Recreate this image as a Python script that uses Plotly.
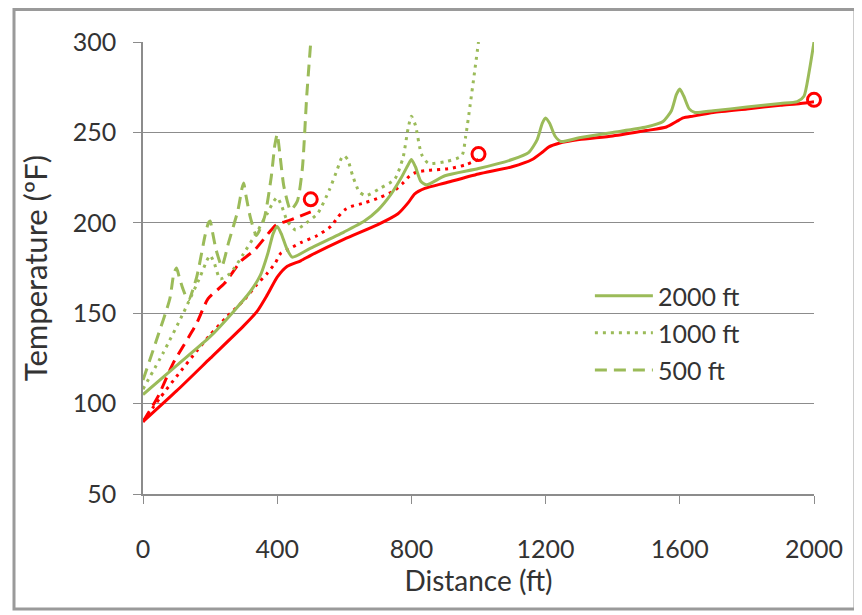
import plotly.graph_objects as go

GREEN = "#9bbb59"
RED = "#ff0000"
GRID = "#8c8c8c"

# 2000 ft run
x_2000 = [0, 100, 200, 270, 320, 350, 372, 388, 400, 412, 428, 445, 500, 600, 660, 700, 740,
          770, 790, 800, 812, 828, 845, 900, 1000, 1100, 1150, 1175, 1190, 1200, 1212, 1228,
          1245, 1300, 1400, 1500, 1550, 1575, 1590, 1600, 1612, 1628, 1645, 1700, 1800, 1900,
          1950, 1970, 1985, 2000]
t_2000 = [105, 121, 137, 151, 162, 171, 183, 194, 198, 194, 186, 181, 186, 195, 201, 207, 216,
          225, 232, 235, 231, 223, 221, 226, 230, 235, 239, 246, 255, 258, 255, 248,
          245, 247, 250, 253, 256, 262, 271, 274, 270, 263, 261, 262, 264, 266,
          267, 270, 283, 300]
xr_2000 = [0, 100, 200, 300, 340, 370, 400, 430, 470, 500, 600, 700, 760, 790, 810, 840, 900,
           1000, 1100, 1160, 1190, 1210, 1240, 1300, 1400, 1500, 1560, 1590, 1610, 1640, 1700,
           1800, 1900, 1960, 2000]
tr_2000 = [90, 107, 125, 143, 151, 160, 170, 176, 179, 182, 191, 199, 205, 211, 216, 219, 222,
           227, 231, 235, 239, 242, 244, 246, 248, 251, 253, 256, 258, 259, 261,
           263, 265, 266, 267]

# 1000 ft run
x_1000 = [0, 60, 120, 170, 190, 200, 212, 230, 260, 300, 340, 370, 390, 400, 412, 430, 455, 480,
          520, 555, 580, 592, 600, 610, 625, 645, 665, 706, 750, 775, 790, 800, 812, 830, 850,
          905, 950, 962, 975, 988, 1000]
t_1000 = [108, 128, 150, 170, 179, 182, 178, 169, 172, 183, 195, 205, 212, 214, 210, 201, 196, 199,
          205, 218, 230, 236, 237, 235, 226, 217, 215, 219, 224, 236, 252, 259, 254, 238, 233,
          234, 237, 248, 265, 283, 300]
xr_1000 = [0, 50, 100, 160, 200, 250, 300, 340, 370, 395, 410, 440, 470, 520, 560, 580, 600, 620,
           660, 706, 750, 775, 795, 815, 850, 915, 960, 1000]
tr_1000 = [90, 103, 115, 129, 138, 148, 157, 166, 172, 178, 183, 186, 189, 193, 198, 203, 207, 209,
           211, 214, 218, 222, 226, 228, 229, 230, 232, 235]

# 500 ft run
x_500 = [0, 40, 80, 92, 100, 108, 118, 135, 160, 185, 195, 200, 207, 218, 235, 255, 283, 295, 300,
         307, 320, 338, 362, 382, 393, 400, 408, 420, 440, 460, 475, 488, 500]
t_500 = [113, 135, 158, 172, 175, 170, 164, 157, 170, 193, 200, 201, 195, 185, 176, 189, 207, 219, 222,
         215, 203, 193, 203, 225, 243, 249, 238, 220, 207, 212, 230, 270, 300]
xr_500 = [0, 45, 89, 159, 194, 243, 293, 333, 382, 398, 438, 458, 500]
tr_500 = [90, 104, 122, 144, 158, 166.5, 179, 185, 196, 199, 201.5, 203, 206]

# end points
end_x = [500, 1000, 2000]
end_t = [213, 238, 268]

fig = go.Figure()

green_runs = [
    ("2000 ft", x_2000, t_2000, "solid", "legend"),
    ("1000 ft", x_1000, t_1000, "3px,5px", "legend2"),
    ("500 ft", x_500, t_500, "12px,7px", "legend3"),
]
red_runs = [
    (xr_2000, tr_2000, "solid"),
    (xr_1000, tr_1000, "3px,5px"),
    (xr_500, tr_500, "12px,7px"),
]

for xs, ts, dash in red_runs:
    fig.add_trace(go.Scatter(
        x=xs, y=ts, mode="lines", showlegend=False,
        line=dict(color=RED, width=3, dash=dash, shape="spline", smoothing=0.6),
    ))

for name, xs, ts, dash, lg in green_runs:
    fig.add_trace(go.Scatter(
        x=xs, y=ts, mode="lines", name=name, legend=lg,
        line=dict(color=GREEN, width=3, dash=dash, shape="spline", smoothing=0.6),
    ))

fig.add_trace(go.Scatter(
    x=end_x, y=end_t, mode="markers", showlegend=False, cliponaxis=False,
    marker=dict(symbol="circle-open", size=13, color=RED, line=dict(color=RED, width=3)),
))

font = dict(family="Lato, Arial, sans-serif", size=25, color="#333333")
legend_common = dict(
    x=0.666, xanchor="left", yanchor="middle", bgcolor="rgba(0,0,0,0)",
    font=font, itemwidth=58, borderwidth=0,
)

# page body has an 8px margin, so the figure is a bit smaller than the window
fig.update_layout(
    width=854, height=607,
    margin=dict(l=135, r=48, t=34, b=121),
    paper_bgcolor="white", plot_bgcolor="white",
    font=font,
    legend=dict(y=0.438, **legend_common),
    legend2=dict(y=0.356, **legend_common),
    legend3=dict(y=0.274, **legend_common),
    xaxis=dict(
        range=[0, 2000], tickvals=[0, 400, 800, 1200, 1600, 2000],
        showgrid=False, zeroline=False,
        showline=True, linecolor=GRID, linewidth=1.5,
        ticks="outside", ticklen=8, tickcolor=GRID, ticklabelstandoff=24,
        title=dict(text="Distance (ft)", font=dict(size=28), standoff=9),
    ),
    yaxis=dict(
        range=[50, 300], tickvals=[50, 100, 150, 200, 250, 300],
        showgrid=True, gridcolor=GRID, gridwidth=1.2, zeroline=False,
        showline=True, linecolor=GRID, linewidth=1.5,
        ticks="outside", ticklen=8, tickcolor=GRID, ticklabelstandoff=12,
        title=dict(text="Temperature (ºF)", font=dict(size=31), standoff=16),
    ),
    shapes=[dict(
        type="rect", xref="paper", yref="paper",
        x0=(6 - 135) / 671, x1=(847 - 135) / 671,
        y0=(486 - 601) / 452, y1=(486 - 1.5) / 452,
        line=dict(color="#9a9a9a", width=3), layer="below",
    )],
)

fig.write_html("out.html")
